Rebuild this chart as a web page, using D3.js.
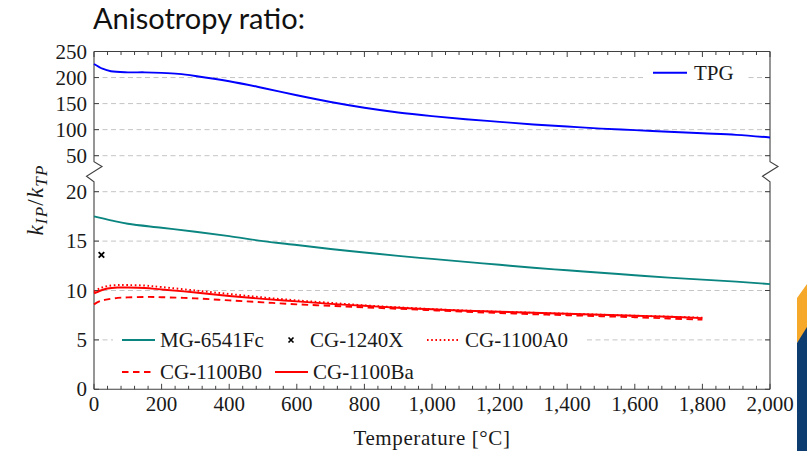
<!DOCTYPE html>
<html>
<head>
<meta charset="utf-8">
<script src="https://cdn.jsdelivr.net/npm/d3@7"></script>
<style>
  html, body { margin: 0; padding: 0; background: #fff; }
  svg { display: block; }
  .serif { font-family: "Liberation Serif", "Times New Roman", serif; fill: #1a1a1a; }
</style>
</head>
<body>
<svg id="chart" width="807" height="451"></svg>
<script>
// ---- data -------------------------------------------------------------
const titleText = "Anisotropy ratio:";
const xTickValues = [0, 200, 400, 600, 800, 1000, 1200, 1400, 1600, 1800, 2000];
const yTicksUpper = [50, 100, 150, 200, 250];
const yTicksLower = [0, 5, 10, 15, 20];

// TPG (upper panel)
const tempTPG = [0, 25, 50, 100, 150, 200, 250, 300, 400, 500, 600, 700, 800, 900, 1000, 1100, 1200, 1300, 1400, 1500, 1600, 1700, 1800, 1900, 2000];
const ratioTPG = [226, 217, 212, 210, 210, 209, 207, 203, 193, 180, 166, 153, 142, 133, 126, 120, 115, 110, 106, 102, 99, 96, 93, 90, 85];

// MG-6541Fc
const tempMG = [0, 50, 100, 200, 300, 400, 500, 600, 700, 800, 900, 1000, 1100, 1200, 1300, 1400, 1500, 1600, 1700, 1800, 1900, 2000];
const ratioMG = [17.5, 17.1, 16.75, 16.35, 15.95, 15.5, 15.0, 14.6, 14.2, 13.85, 13.5, 13.2, 12.9, 12.6, 12.3, 12.05, 11.8, 11.55, 11.3, 11.1, 10.9, 10.65];

// CG-1240X (single measurement)
const tempCG1240X = [22];
const ratioCG1240X = [13.6];

// CG-1100 grades
const tempCG1100 = [0, 20, 40, 70, 100, 150, 200, 300, 400, 500, 600, 700, 800, 900, 1000, 1100, 1200, 1300, 1400, 1500, 1600, 1700, 1800];
const ratioA0 = [9.9, 10.25, 10.45, 10.55, 10.55, 10.5, 10.35, 10.0, 9.65, 9.3, 9.0, 8.75, 8.5, 8.3, 8.12, 7.97, 7.85, 7.75, 7.65, 7.55, 7.45, 7.35, 7.25];
const ratioB0 = [8.6, 8.95, 9.1, 9.25, 9.3, 9.35, 9.32, 9.2, 9.0, 8.8, 8.6, 8.45, 8.3, 8.15, 8.0, 7.85, 7.72, 7.6, 7.5, 7.4, 7.3, 7.17, 7.05];
const ratioBa = [9.7, 10.0, 10.2, 10.3, 10.3, 10.25, 10.1, 9.8, 9.45, 9.15, 8.9, 8.65, 8.45, 8.25, 8.1, 7.95, 7.85, 7.75, 7.65, 7.55, 7.45, 7.35, 7.2];

// ---- layout -----------------------------------------------------------
const svg = d3.select("#chart");
const X0 = 94, X1 = 770;
const yTopPix = 51.5, breakTop = 161.7, breakBot = 181.7, yBotPix = 389.3;

const x = d3.scaleLinear().domain([0, 2000]).range([X0, X1]);
const yUp = d3.scaleLinear().domain([50, 250]).range([155.7, yTopPix]);
const yLo = d3.scaleLinear().domain([0, 20]).range([yBotPix, 191.7]);

const axisColor = "#404040";
const gridColor = "#c4c4c4";

// decorative slide corner at the right edge
svg.append("polygon")
  .attr("points", "797,298 807,284 807,330 797,343")
  .attr("fill", "#f6a82a");
svg.append("polygon")
  .attr("points", "797,343 807,327 807,451 797,451")
  .attr("fill", "#0c3c70");

// title
svg.append("text")
  .attr("x", 93).attr("y", 29)
  .attr("font-family", "Lato, 'Open Sans', sans-serif")
  .attr("font-size", 29)
  .attr("fill", "#111")
  .text(titleText);

// ---- grid -------------------------------------------------------------
const gridG = svg.append("g");
yTicksUpper.filter(v => v < 250).forEach(v => {
  gridG.append("line").attr("x1", X0).attr("x2", X1)
    .attr("y1", yUp(v)).attr("y2", yUp(v))
    .attr("stroke", gridColor).attr("stroke-width", 1)
    .attr("stroke-dasharray", "5,3.5");
});
yTicksLower.filter(v => v > 0).forEach(v => {
  gridG.append("line").attr("x1", X0).attr("x2", X1)
    .attr("y1", yLo(v)).attr("y2", yLo(v))
    .attr("stroke", gridColor).attr("stroke-width", 1)
    .attr("stroke-dasharray", "5,3.5");
});

// legend backgrounds (drawn above the grid)
svg.append("rect").attr("x", 646).attr("y", 58).attr("width", 100).attr("height", 30).attr("fill", "#fff");
svg.append("rect").attr("x", 113).attr("y", 324).attr("width", 472).attr("height", 60).attr("fill", "#fff");

// ---- frame with axis break -------------------------------------------
const frame = svg.append("g").attr("fill", "none").attr("stroke", axisColor).attr("stroke-width", 1.1);
frame.append("line").attr("x1", X0).attr("x2", X1).attr("y1", yTopPix).attr("y2", yTopPix);
frame.append("line").attr("x1", X0).attr("x2", X1).attr("y1", yBotPix).attr("y2", yBotPix);
// vertical edges with zig-zag break marks
function breakPath(xa) {
  return d3.line()([
    [xa, yTopPix], [xa, breakTop], [xa + 8, breakTop + 4.8],
    [xa - 7.5, breakTop + 14.5], [xa, breakBot], [xa, yBotPix]
  ]);
}
frame.append("path").attr("d", breakPath(X0));
frame.append("path").attr("d", breakPath(X1));

// ---- ticks ------------------------------------------------------------
const tickG = svg.append("g").attr("stroke", axisColor).attr("stroke-width", 1);
d3.range(0, 2001, 40).forEach(t => {
  const major = t % 200 === 0;
  const len = major ? 5.5 : 3.5;
  tickG.append("line").attr("x1", x(t)).attr("x2", x(t))
    .attr("y1", yBotPix).attr("y2", yBotPix - len);
  tickG.append("line").attr("x1", x(t)).attr("x2", x(t))
    .attr("y1", yTopPix).attr("y2", yTopPix + len);
});
const yTickPix = yTicksUpper.map(v => yUp(v)).concat(yTicksLower.map(v => yLo(v)));
yTickPix.forEach(py => {
  tickG.append("line").attr("x1", X0).attr("x2", X0 + 5).attr("y1", py).attr("y2", py);
  tickG.append("line").attr("x1", X1).attr("x2", X1 - 5).attr("y1", py).attr("y2", py);
});

// tick labels
const fmt = d3.format(",");
const labelG = svg.append("g").attr("class", "serif").attr("font-size", 21);
xTickValues.forEach(t => {
  labelG.append("text").attr("x", x(t)).attr("y", 411)
    .attr("text-anchor", "middle").text(fmt(t));
});
yTicksUpper.forEach(v => {
  labelG.append("text").attr("x", 87).attr("y", yUp(v) + 7)
    .attr("text-anchor", "end").text(v);
});
yTicksLower.forEach(v => {
  labelG.append("text").attr("x", 87).attr("y", yLo(v) + 7)
    .attr("text-anchor", "end").text(v);
});

// axis titles
svg.append("text").attr("class", "serif").attr("font-size", 21)
  .attr("x", (X0 + X1) / 2).attr("y", 445).attr("text-anchor", "middle")
  .attr("letter-spacing", 0.6)
  .text("Temperature [°C]");

const yTitle = svg.append("text").attr("class", "serif").attr("font-size", 23)
  .attr("font-style", "italic")
  .attr("letter-spacing", 1.2)
  .attr("transform", "translate(43,200) rotate(-90)")
  .attr("text-anchor", "middle");
yTitle.append("tspan").text("k");
yTitle.append("tspan").attr("font-size", 17).attr("dy", 4).text("IP");
yTitle.append("tspan").attr("dy", -4).attr("font-style", "normal").text("/");
yTitle.append("tspan").text("k");
yTitle.append("tspan").attr("font-size", 17).attr("dy", 4).text("TP");

// ---- series -----------------------------------------------------------
const zip = (ts, vs) => ts.map((t, i) => [t, vs[i]]);
const smooth = d3.curveCatmullRom.alpha(0.5);
const lineLo = d3.line().x(d => x(d[0])).y(d => yLo(d[1])).curve(smooth);
const lineUp = d3.line().x(d => x(d[0])).y(d => yUp(d[1])).curve(smooth);

const seriesG = svg.append("g").attr("fill", "none").attr("stroke-width", 1.9);
seriesG.append("path").attr("d", lineLo(zip(tempMG, ratioMG))).attr("stroke", "#0a8580");
seriesG.append("path").attr("d", lineLo(zip(tempCG1100, ratioA0))).attr("stroke", "#ff0000")
  .attr("stroke-dasharray", "1.6,2.6");
seriesG.append("path").attr("d", lineLo(zip(tempCG1100, ratioB0))).attr("stroke", "#ff0000")
  .attr("stroke-dasharray", "6.5,4.5");
seriesG.append("path").attr("d", lineLo(zip(tempCG1100, ratioBa))).attr("stroke", "#ff0000");
seriesG.append("path").attr("d", lineUp(zip(tempTPG, ratioTPG))).attr("stroke", "#0000ff");

const cross = d3.symbol().type(d3.symbolX).size(22);
zip(tempCG1240X, ratioCG1240X).forEach(d => {
  svg.append("path").attr("d", cross())
    .attr("transform", `translate(${x(d[0])},${yLo(d[1])})`)
    .attr("fill", "none").attr("stroke", "#000").attr("stroke-width", 1.8);
});

// ---- legends ----------------------------------------------------------
const legendNames = ["MG-6541Fc", "CG-1240X", "CG-1100A0", "CG-1100B0", "CG-1100Ba"];
const legendStyles = [
  { stroke: "#0a8580", dash: null },
  { marker: true },
  { stroke: "#ff0000", dash: "1.6,2.6" },
  { stroke: "#ff0000", dash: "6.5,4.5" },
  { stroke: "#ff0000", dash: null }
];
const legendSlots = [
  { lx: 122, ty: 340 }, { lx: 275, ty: 340 }, { lx: 427, ty: 340 },
  { lx: 122, ty: 372 }, { lx: 275, ty: 372 }
];
const legG = svg.append("g");
legendNames.forEach((name, i) => {
  const s = legendStyles[i], p = legendSlots[i];
  if (s.marker) {
    legG.append("path").attr("d", d3.symbol().type(d3.symbolX).size(18)())
      .attr("transform", `translate(${p.lx + 16},${p.ty})`)
      .attr("fill", "none").attr("stroke", "#000").attr("stroke-width", 1.7);
  } else {
    legG.append("line").attr("x1", p.lx).attr("x2", p.lx + 33)
      .attr("y1", p.ty).attr("y2", p.ty)
      .attr("stroke", s.stroke).attr("stroke-width", 1.9)
      .attr("stroke-dasharray", s.dash);
  }
  legG.append("text").attr("class", "serif").attr("font-size", 21)
    .attr("x", p.lx + (s.marker ? 35 : 38)).attr("y", p.ty + 7).text(name);
});

// TPG legend
legG.append("line").attr("x1", 653).attr("x2", 687).attr("y1", 72.7).attr("y2", 72.7)
  .attr("stroke", "#0000ff").attr("stroke-width", 1.9);
legG.append("text").attr("class", "serif").attr("font-size", 21)
  .attr("x", 694).attr("y", 80).text("TPG");
</script>
</body>
</html>
